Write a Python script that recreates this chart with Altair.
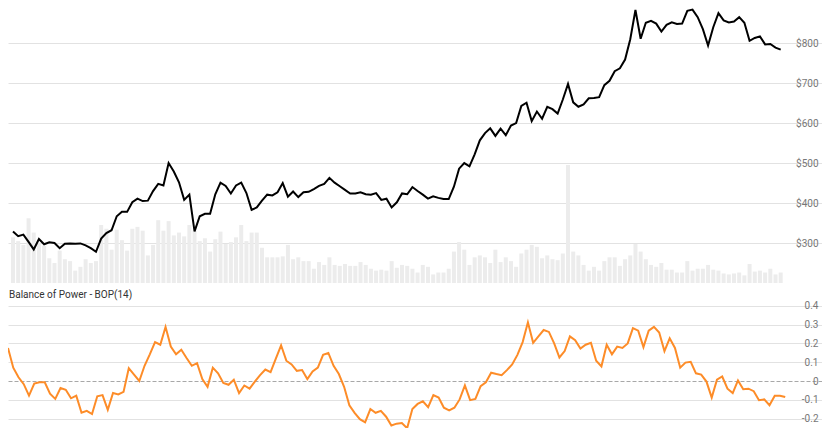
import altair as alt
import pandas as pd

# Price (close)
price = [329, 317, 321, 303, 284, 310, 297, 302, 300, 287, 298, 299, 298, 299, 294, 287, 278, 311, 325, 332,
         367, 378, 378, 402, 411, 405, 406, 430, 448, 444, 500, 479, 452, 408, 421, 329, 367, 373, 373, 422,
         451, 443, 424, 444, 451, 425, 383, 389, 406, 421, 419, 427, 450, 416, 429, 415, 427, 428, 435, 443,
         448, 463, 451, 442, 433, 424, 424, 427, 422, 421, 425, 408, 411, 389, 402, 424, 422, 440, 430, 421,
         411, 417, 413, 410, 410, 441, 486, 500, 492, 522, 557, 575, 587, 568, 586, 570, 594, 600, 643, 651,
         605, 629, 611, 641, 635, 624, 659, 698, 652, 641, 647, 662, 663, 665, 695, 706, 730, 737, 759, 810,
         883, 811, 851, 856, 849, 829, 846, 852, 848, 849, 881, 884, 865, 835, 794, 840, 875, 857, 852, 854,
         865, 851, 806, 813, 817, 797, 798, 789, 784]

# Volume (relative units)
volume = [48, 44, 40, 68, 53, 42, 39, 26, 21, 34, 25, 23, 13, 17, 25, 21, 23, 61, 57, 35,
          56, 45, 34, 57, 59, 55, 29, 40, 66, 55, 65, 50, 53, 49, 61, 55, 44, 47, 33, 46,
          54, 41, 43, 48, 61, 44, 53, 53, 37, 27, 27, 27, 28, 40, 25, 27, 23, 23, 15, 22,
          19, 27, 19, 18, 20, 18, 18, 22, 19, 15, 13, 14, 13, 23, 16, 19, 18, 15, 11, 19,
          17, 9, 11, 11, 15, 33, 43, 35, 19, 27, 29, 27, 21, 35, 22, 27, 23, 17, 31, 35,
          40, 38, 26, 29, 25, 24, 31, 124, 33, 29, 19, 13, 17, 13, 23, 27, 27, 18, 25, 29,
          41, 33, 25, 19, 17, 21, 14, 14, 11, 11, 23, 13, 15, 15, 19, 14, 13, 10, 9, 10,
          11, 8, 20, 12, 13, 11, 15, 9, 11]

# Balance of Power BOP(14)
bop = [0.176, 0.071, 0.020, -0.017, -0.078, -0.014, -0.007, -0.007, -0.068, -0.095,
       -0.037, -0.047, -0.092, -0.078, -0.169, -0.159, -0.176, -0.081, -0.075, -0.153,
       -0.064, -0.071, -0.058, 0.068, 0.034, 0.000, 0.081, 0.142, 0.207, 0.193,
       0.288, 0.183, 0.142, 0.166, 0.122, 0.081, 0.095, 0.010, -0.031, 0.071,
       0.041, -0.010, -0.020, 0.007, -0.064, -0.024, -0.041, -0.003, 0.031, 0.061,
       0.047, 0.119, 0.190, 0.108, 0.088, 0.054, 0.058, 0.010, 0.051, 0.071,
       0.139, 0.149, 0.081, 0.037, -0.031, -0.129, -0.169, -0.203, -0.220, -0.149,
       -0.169, -0.159, -0.190, -0.237, -0.227, -0.224, -0.251, -0.149, -0.122, -0.108,
       -0.139, -0.075, -0.088, -0.142, -0.156, -0.142, -0.098, -0.024, -0.102, -0.095,
       -0.027, -0.007, 0.044, 0.037, 0.031, 0.058, 0.088, 0.139, 0.207, 0.312,
       0.203, 0.237, 0.271, 0.261, 0.200, 0.125, 0.159, 0.237, 0.217, 0.173,
       0.193, 0.203, 0.108, 0.078, 0.193, 0.142, 0.183, 0.176, 0.200, 0.281,
       0.268, 0.180, 0.268, 0.288, 0.258, 0.159, 0.227, 0.176, 0.071, 0.098,
       0.102, 0.041, 0.034, -0.003, -0.088, 0.007, 0.024, -0.041, -0.064, 0.003,
       -0.044, -0.041, -0.054, -0.102, -0.098, -0.129, -0.078, -0.078, -0.085]

price_ticks = [300, 400, 500, 600, 700, 800]
bop_ticks = [-0.2, -0.1, 0, 0.1, 0.2, 0.3, 0.4]
panel_title = "Balance of Power - BOP(14)"

n = min(len(price), len(volume), len(bop))
df = pd.DataFrame({"i": list(range(n)), "price": price[:n], "volume": volume[:n], "bop": bop[:n]})

W = 814
H1 = 275
H2 = 141
FONT = "Roboto"
LABEL_COLOR = "#777777"
GRID_COLOR = "#e2e2e2"

x = alt.X("i:Q", scale=alt.Scale(domain=[0, 155], nice=False, zero=False), axis=None)
base = alt.Chart(df)

vol = base.mark_bar(size=4, color="#ececec", clip=True).encode(
    x=x,
    y=alt.Y("volume:Q", scale=alt.Scale(domain=[0, 289], nice=False), axis=None),
)

pline = base.mark_line(color="#000000", strokeWidth=2, clip=True).encode(
    x=x,
    y=alt.Y("price:Q", scale=alt.Scale(domain=[200, 888], nice=False, zero=False),
            axis=alt.Axis(orient="right", values=price_ticks, labelExpr="'$' + datum.value",
                          grid=True, ticks=False, domain=False, labelAlign="right", labelPadding=-4,
                          labelColor=LABEL_COLOR, labelFontSize=10, labelFont=FONT,
                          gridColor=GRID_COLOR, title=None)),
)

top = alt.layer(vol, pline).resolve_scale(y="independent").properties(width=W, height=H1)

bline = base.mark_line(color="#fd8c28", strokeWidth=2, clip=True).encode(
    x=x,
    y=alt.Y("bop:Q", scale=alt.Scale(domain=[-0.25, 0.5], nice=False, zero=False),
            axis=alt.Axis(orient="right", values=bop_ticks,
                          labelExpr="datum.value == 0 ? '0' : (datum.value < 0 ? '-' : '') + format(abs(datum.value), '.1f')",
                          grid=True, ticks=False, domain=False, labelAlign="right", labelPadding=-4,
                          labelColor=LABEL_COLOR, labelFontSize=10, labelFont=FONT,
                          gridColor={"condition": {"test": "datum.value === 0", "value": "#a8a8a8"}, "value": GRID_COLOR},
                          gridDash={"condition": {"test": "datum.value === 0", "value": [4, 2]}, "value": []},
                          title=None)),
)

title_mark = alt.Chart(pd.DataFrame({"t": [panel_title]})).mark_text(
    align="left", baseline="middle", fontSize=10, font=FONT, color="#333333"
).encode(text="t:N", x=alt.value(1), y=alt.value(8))

bottom = alt.layer(bline, title_mark).properties(width=W, height=H2)

chart = alt.vconcat(top, bottom, spacing=4).properties(padding=0).configure_view(stroke=None)

chart.save("out.html", embed_options={"renderer": "svg", "actions": False})
